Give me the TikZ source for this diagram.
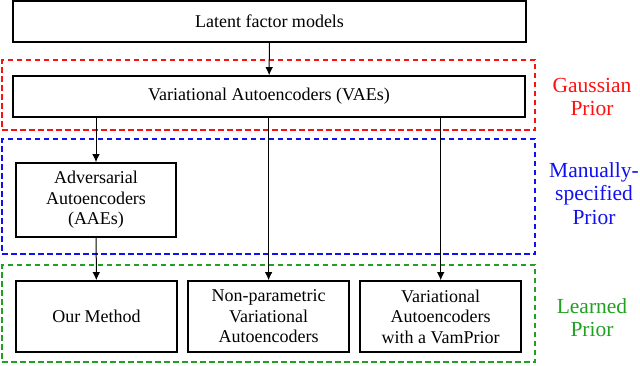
\documentclass[tikz,border=0pt]{standalone}
\usepackage{fontspec}
\setmainfont{Liberation Serif}
\usetikzlibrary{positioning,arrows.meta}
\definecolor{gau}{HTML}{FF1010}
\definecolor{man}{HTML}{1010F0}
\definecolor{lrn}{HTML}{22A022}

\begin{document}
\begin{tikzpicture}[x=1pt,y=-1pt,font=\fontsize{18}{20.5}\selectfont,>={Latex[length=8pt,width=7.5pt]},node distance=5mm]
\tikzstyle{b}=[draw,line width=1.6pt,align=center,inner sep=2pt]
\tikzstyle{reg}=[draw,line width=1.5pt,dash pattern=on 5.5pt off 3.5pt]
\tikzstyle{lbl}=[align=center,anchor=north,inner sep=0pt,font=\fontsize{21.5}{23.5}\selectfont]
\tikzstyle{link}=[->,line width=1pt]
\useasboundingbox (0,0) rectangle (640,365);
% prior regions
\node[reg,draw=gau,minimum width=533pt,minimum height=70pt] (gr) at (268.5,95) {};
\node[reg,draw=man,minimum width=533pt,minimum height=115pt] (mr) at (268.5,196.5) {};
\node[reg,draw=lrn,minimum width=533pt,minimum height=97pt] (lr) at (268.5,313.5) {};
\node[lbl,text=gau] (gl) at (592,78) {Gaussian\\Prior};
\node[lbl,text=man] (ml) at (594,162) {Manually-\\specified\\Prior};
\node[lbl,text=lrn] (ll) at (592,298) {Learned\\Prior};
% models
\node[b,minimum width=513pt,minimum height=41pt] (lfm) at (269.5,21.5) {Latent factor models};
\node[b,minimum width=512pt,minimum height=41pt] (vae) at (269,96.5) {Variational Autoencoders (VAEs)};
\node[b,minimum width=160pt,minimum height=74pt] (aae) at (96,200) {Adversarial\\Autoencoders\\(AAEs)};
\node[b,minimum width=161pt,minimum height=71pt] (ours) at (96.5,316.5) {Our Method};
\node[b,minimum width=161pt,minimum height=71pt,right=9.5pt of ours] (npv) {Non-parametric\\Variational\\Autoencoders};
\node[b,minimum width=161pt,minimum height=71pt,right=9.5pt of npv] (vamp) {Variational\\Autoencoders\\with a VamPrior};
\draw[link] (lfm) -- (vae);
\draw[link] (vae.south -| aae) -- (aae);
\draw[link] (aae) -- (ours);
\draw[link] (vae.south -| npv) -- (npv);
\draw[link] (vae.south -| vamp) -- (vamp);
\end{tikzpicture}
\end{document}
